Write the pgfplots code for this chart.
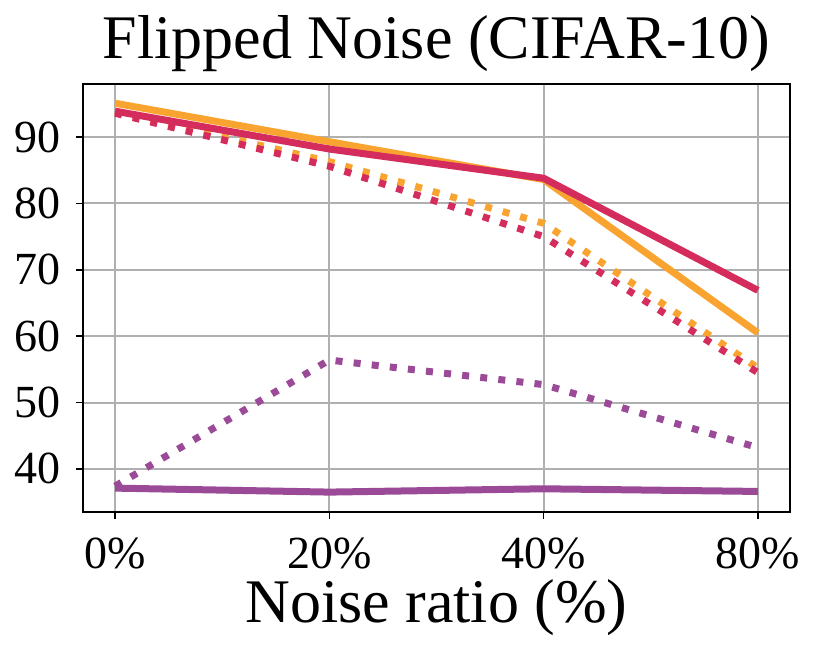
\documentclass[border=0pt]{standalone}
\usepackage{pgfplots}
\pgfplotsset{compat=1.18}
\usepackage{fontspec}
\setmainfont{Liberation Serif}
\definecolor{corange}{RGB}{249,164,49}
\definecolor{ccrimson}{RGB}{212,44,92}
\definecolor{cpurple}{RGB}{155,74,151}
\definecolor{cgrid}{RGB}{176,176,176}
\begin{document}
\begin{tikzpicture}
\begin{axis}[
  name=ax,
  scale only axis,
  width=353.5pt, height=214pt,
  xmin=-0.15, xmax=3.15,
  ymin=33.5, ymax=98,
  xtick={0,1,2,3},
  xticklabels={0\%,20\%,40\%,80\%},
  ytick={40,50,60,70,80,90},
  /pgf/number format/assume math mode=true,
  tick pos=left,
  tick align=outside,
  major tick length=3.5pt,
  every tick/.style={black, line width=0.8pt},
  axis line style={black, line width=1pt},
  grid=major,
  major grid style={cgrid, line width=1pt},
  ticklabel style={font=\fontsize{23}{27}\selectfont},
  xticklabel style={anchor=base, inner sep=0pt, yshift=-24.5pt},
  yticklabel style={anchor=east, inner sep=0pt, xshift=-7.5pt},
  title={Flipped Noise (CIFAR-10)},
  title style={font=\fontsize{31}{36}\selectfont, inner sep=0pt, at={(0.5,1)}, anchor=base, yshift=6.5pt},
  xlabel={Noise ratio (\%)},
  xlabel style={font=\fontsize{31}{36}\selectfont, inner sep=0pt, at={(0.5,0)}, anchor=base, yshift=-55pt},
  clip=false,
]
% dotted
\addplot[corange, line width=3.5pt, dash pattern=on 3.5pt off 5.6pt] coordinates {(0,93.9) (1,86.3) (2,77.0) (3,55.2)};
\addplot[ccrimson, line width=3.5pt, dash pattern=on 3.5pt off 5.6pt] coordinates {(0,93.6) (1,85.6) (2,75.0) (3,54.5)};
\addplot[cpurple, line width=3.5pt, dash pattern=on 3.5pt off 5.6pt] coordinates {(0,37.4) (1,56.4) (2,52.7) (3,43.2)};
% solid
\addplot[corange, line width=3.5pt] coordinates {(0,95.1) (1,89.3) (2,83.6) (3,60.5)};
\addplot[ccrimson, line width=3.5pt] coordinates {(0,93.9) (1,88.2) (2,83.8) (3,66.9)};
\addplot[cpurple, line width=3.5pt] coordinates {(0,37.1) (1,36.5) (2,37.0) (3,36.6)};
\end{axis}
\path ([shift={(-41.5pt,-76pt)}]ax.south west) rectangle ([shift={(20pt,42pt)}]ax.north east);
\end{tikzpicture}
\end{document}
